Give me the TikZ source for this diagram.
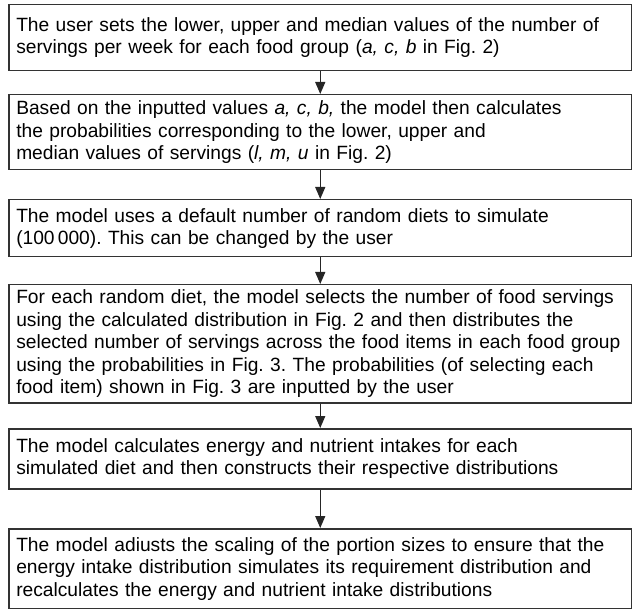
\documentclass[tikz,border=0pt]{standalone}
\usepackage{fontspec}
\setmainfont{Liberation Sans}
\usetikzlibrary{arrows.meta}
\frenchspacing

\begin{document}
\begin{tikzpicture}
  [x=0.5pt,y=-0.5pt,
  flowbox/.style={draw=black!80,line width=0.75pt,anchor=north west,align=left,text width=304pt,inner xsep=3.75pt,inner ysep=0pt,font=\fontsize{9.6}{11.2}\selectfont},
  flowarrow/.style={draw=black!85,line width=0.6pt,-{Triangle[length=6pt,width=5pt]}}]
  \useasboundingbox (0,0) rectangle (632,609);

  \node[flowbox,minimum height=33pt] (s1) at (8,4) {The user sets the lower, upper and median values of the number of\\servings per week for each food group (\textit{a, c, b} in Fig. 2)};
  \node[flowbox,minimum height=37.5pt] (s2) at (8,94) {Based on the inputted values \textit{a, c, b,} the model then calculates\\the probabilities corresponding to the lower, upper and\\median values of servings (\textit{l, m, u} in Fig. 2)};
  \node[flowbox,minimum height=28.5pt] (s3) at (8,199) {The model uses a default number of random diets to simulate\\(100\,000). This can be changed by the user};
  \node[flowbox,minimum height=59pt] (s4) at (8,284) {For each random diet, the model selects the number of food servings\\using the calculated distribution in Fig. 2 and then distributes the\\selected number of servings across the food items in each food group\\using the probabilities in Fig. 3. The probabilities (of selecting each\\food item) shown in Fig. 3 are inputted by the user};
  \node[flowbox,minimum height=30pt] (s5) at (8,428) {The model calculates energy and nutrient intakes for each\\simulated diet and then constructs their respective distributions};
  \node[flowbox,minimum height=40pt] (s6) at (8,528) {The model adiusts the scaling of the portion sizes to ensure that the\\energy intake distribution simulates its requirement distribution and\\recalculates the energy and nutrient intake distributions};

  \draw[flowarrow] (s1) -- (s2);
  \draw[flowarrow] (s2) -- (s3);
  \draw[flowarrow] (s3) -- (s4);
  \draw[flowarrow] (s4) -- (s5);
  \draw[flowarrow] (s5) -- (s6);
\end{tikzpicture}
\end{document}
